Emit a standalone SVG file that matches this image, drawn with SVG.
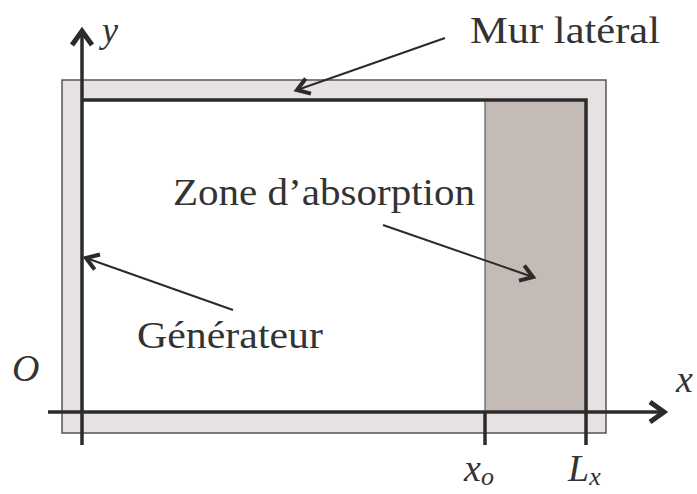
<svg xmlns="http://www.w3.org/2000/svg" width="697" height="494" viewBox="0 0 697 494">
<style>
.lbl{font-family:"Liberation Serif","Times New Roman",serif;font-size:38px;fill:#333}
.math{font-family:"Liberation Serif","Times New Roman",serif;font-style:italic;fill:#333}
.thick{stroke:#2b2b2b;stroke-width:3.5;fill:none}
.lead{stroke:#2b2b2b;stroke-width:2;fill:none}
</style>
<defs>
<marker id="ah" markerUnits="userSpaceOnUse" markerWidth="30" markerHeight="30" viewBox="-20 -15 30 30" refX="0" refY="0" orient="auto">
<path d="M -14 -10 L 0 0 L -14 10" fill="none" stroke="#2b2b2b" stroke-width="5" stroke-linejoin="miter"/>
</marker>
<marker id="ahs" markerUnits="userSpaceOnUse" markerWidth="30" markerHeight="30" viewBox="-20 -15 30 30" refX="0" refY="0" orient="auto">
<path d="M -12 -8 L 0 0 L -12 8" fill="none" stroke="#2b2b2b" stroke-width="4" stroke-linejoin="miter"/>
</marker>
</defs>
<rect width="697" height="494" fill="#ffffff"/>
<g id="wall">
<rect x="62" y="80" width="544" height="353" fill="#e8e1e1" stroke="#555" stroke-width="1.5"/>
<rect x="82" y="100" width="504" height="312" fill="#ffffff"/>
</g>
<g id="absorption">
<rect x="485" y="100" width="101" height="312" fill="#c4bab6" stroke="#444" stroke-width="1"/>
</g>
<g id="domain">
<polyline class="thick" points="82,100 586,100 586,445"/>
<line class="thick" x1="485" y1="412" x2="485" y2="445"/>
</g>
<g id="connectors">
<line class="thick" x1="82" y1="445" x2="82" y2="31" marker-end="url(#ah)"/>
<line class="thick" x1="48" y1="412" x2="664" y2="412" marker-end="url(#ah)"/>
<line class="lead" x1="445" y1="38" x2="297" y2="90" marker-end="url(#ahs)"/>
<line class="lead" x1="383" y1="225" x2="533" y2="277" marker-end="url(#ahs)"/>
<line class="lead" x1="233" y1="310" x2="86" y2="258" marker-end="url(#ahs)"/>
</g>
<g id="labels">
<text class="lbl" x="470" y="43" textLength="190" lengthAdjust="spacingAndGlyphs">Mur latéral</text>
<text class="lbl" x="173" y="205" textLength="302" lengthAdjust="spacingAndGlyphs">Zone d’absorption</text>
<text class="lbl" x="137" y="348" textLength="186" lengthAdjust="spacingAndGlyphs">Générateur</text>
<text class="math" x="102" y="42" font-size="36">y</text>
<text class="math" x="676" y="392" font-size="38">x</text>
<text class="math" x="12" y="381" font-size="38">O</text>
<text class="math" x="464" y="481" font-size="38">x<tspan font-size="26" dy="4">o</tspan></text>
<text class="math" x="568" y="481" font-size="38">L<tspan font-size="26" dy="4">x</tspan></text>
</g>
</svg>
